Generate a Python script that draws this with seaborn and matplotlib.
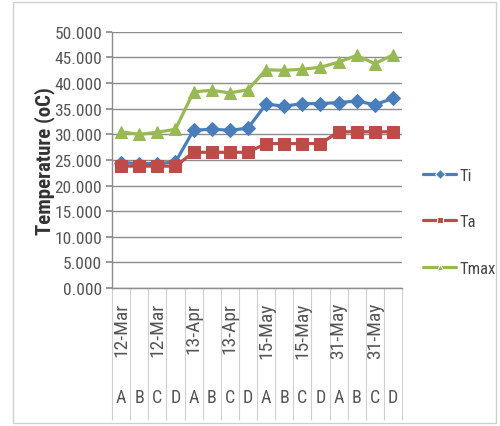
import numpy as np
import pandas as pd
import matplotlib
matplotlib.use("Agg")
import matplotlib.pyplot as plt
from matplotlib import font_manager
from matplotlib.patches import Rectangle
import seaborn as sns

# Sampling dates and sites
dates = ["12-Mar", "13-Apr", "15-May", "31-May"]
sites = ["A", "B", "C", "D"]

# Temperatures (oC) per date/site, in date-major order
ti = [24.5, 24.3, 24.3, 24.6, 30.8, 31.0, 30.8, 31.2,
      35.9, 35.5, 36.0, 36.0, 36.2, 36.5, 35.8, 37.0]
ta = [23.8, 23.8, 23.8, 23.8, 26.5, 26.5, 26.5, 26.5,
      28.2, 28.2, 28.2, 28.2, 30.5, 30.5, 30.5, 30.5]
tmax = [30.5, 30.0, 30.4, 31.0, 38.3, 38.6, 38.1, 38.7,
        42.6, 42.5, 42.7, 43.1, 44.1, 45.4, 43.8, 45.5]

yticks = [0, 5, 10, 15, 20, 25, 30, 35, 40, 45, 50]

series_names = ["Ti", "Ta", "Tmax"]
colors = {"Ti": "#4A7EBB", "Ta": "#BE4B48", "Tmax": "#98B954"}
markers = {"Ti": "D", "Ta": "s", "Tmax": "^"}
msize = {"Ti": 7.5, "Ta": 9.0, "Tmax": 9.0}

sns.set_theme(style="white")
available = {f.name for f in font_manager.fontManager.ttflist}
narrow = "Liberation Sans"
for cand in ["Liberation Sans Narrow", "Roboto Condensed", "DejaVu Sans Condensed",
             "Open Sans Condensed"]:
    if cand in available:
        narrow = cand
        break
plt.rcParams["font.family"] = [narrow, "DejaVu Sans"]

labels_x = [f"{d}|{s}" for d in dates for s in sites]
pos = np.arange(len(labels_x))
df = pd.DataFrame({
    "pos": np.tile(pos, 3),
    "value": ti + ta + tmax,
    "series": np.repeat(series_names, len(pos)),
})

fig = plt.figure(figsize=(5.0, 4.27), dpi=100)
fig.patch.set_facecolor("white")
fig.patches.append(Rectangle((13 / 500, 3 / 427), 483 / 500, 421 / 427,
                             transform=fig.transFigure, fill=False,
                             edgecolor="#d0d0d0", linewidth=1.0))

ax = fig.add_axes([0.224, 0.323, 0.58, 0.6])
sns.lineplot(data=df, x="pos", y="value", hue="series", style="series",
             hue_order=series_names, style_order=series_names,
             palette=colors, markers=markers, dashes=False,
             linewidth=2.3, ax=ax)
for line, name in zip(ax.lines, series_names):
    line.set_markersize(msize[name])
    line.set_markeredgecolor(colors[name])
    line.set_markerfacecolor(colors[name])

ax.set_xlim(-0.5, len(pos) - 0.5)
ax.set_ylim(0, 50)
ax.set_yticks(yticks)
ax.set_yticklabels([f"{v:.3f}" for v in yticks])
ax.yaxis.grid(True, color="#8c8c8c", linewidth=1.0)
ax.set_axisbelow(True)
for side in ["top", "right"]:
    ax.spines[side].set_visible(False)
for side in ["left", "bottom"]:
    ax.spines[side].set_color("#8c8c8c")
    ax.spines[side].set_linewidth(1.0)
ax.tick_params(axis="y", which="major", length=4, color="#8c8c8c",
               labelsize=12.5, labelcolor="#555555", pad=3, direction="out", left=True)

# site letters under each category, separators between categories
ax.set_xticks(pos)
ax.set_xticklabels([s for d in dates for s in sites])
ax.set_xticks(np.arange(-0.5, len(pos)), minor=True)
ax.tick_params(axis="x", which="major", length=0, pad=72,
               labelsize=13, labelcolor="#555555")
ax.tick_params(axis="x", which="minor", length=95, width=0.8,
               color="#cfcfcf", direction="out", bottom=True)

# date labels over sites A and C of each date
for i, lab in enumerate(labels_x):
    d, s = lab.split("|")
    if s in ("A", "C"):
        ax.annotate(d, xy=(i, 0), xycoords=("data", "axes fraction"),
                    xytext=(0, -10), textcoords="offset points",
                    rotation=90, ha="center", va="top",
                    fontsize=14, color="#555555")

ax.set_xlabel("")
ax.set_ylabel("Temperature (oC)", fontsize=15, fontweight="bold",
              color="#333333", labelpad=0)

handles, labels = ax.get_legend_handles_labels()
ax.get_legend().remove()
fig.legend(handles, labels, loc="upper left", bbox_to_anchor=(0.846, 0.605),
           bbox_transform=fig.transFigure, frameon=False, borderpad=0,
           borderaxespad=0, labelspacing=1.9, handlelength=2.0,
           handletextpad=0.2, fontsize=12, labelcolor="#444444",
           markerscale=0.8)

fig.savefig("out.png", dpi=100)
